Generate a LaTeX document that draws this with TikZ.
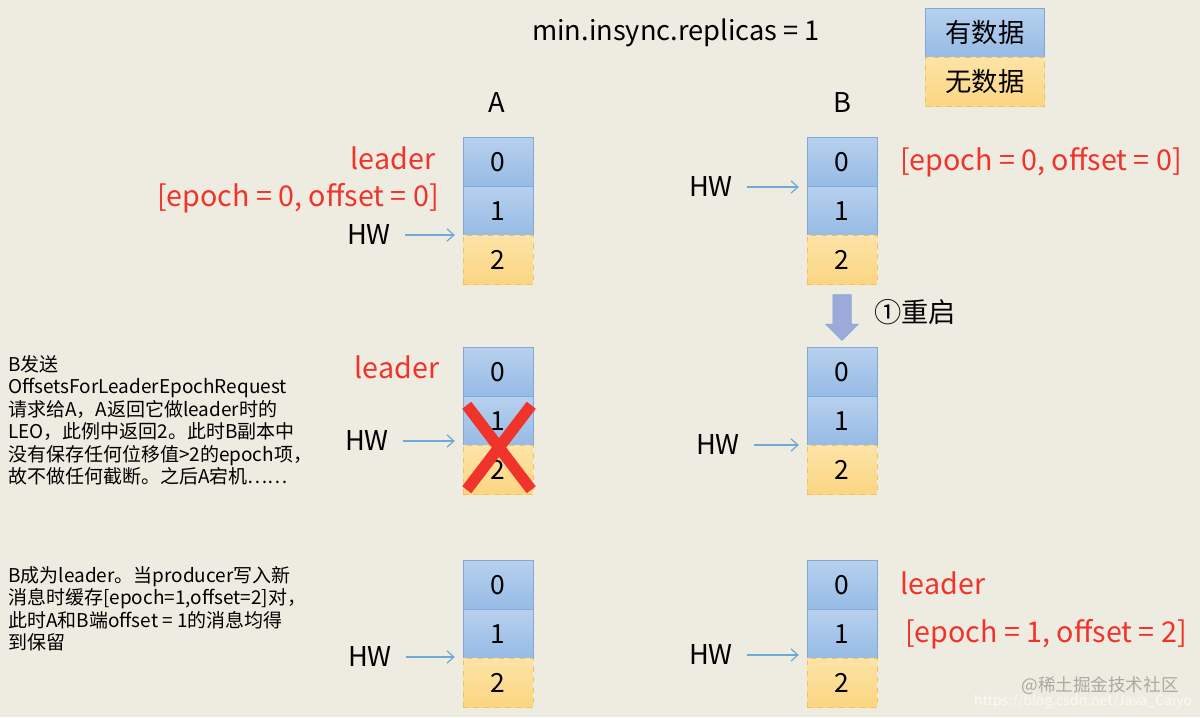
\documentclass[tikz,border=0pt]{standalone}
\usepackage{fontspec}
\setmainfont{Noto Sans CJK SC}
\usetikzlibrary{shapes.arrows,arrows.meta}
\definecolor{bg}{HTML}{EEEBE0}
\definecolor{hastop}{HTML}{B7D0EE}
\definecolor{hasbot}{HTML}{96BBE5}
\definecolor{hasline}{HTML}{7FAAD8}
\definecolor{notop}{HTML}{FDE3A6}
\definecolor{nobot}{HTML}{FBD682}
\definecolor{noline}{HTML}{F0C25A}
\definecolor{lred}{HTML}{F0342C}
\definecolor{arrblue}{HTML}{6FA9D8}
\begin{document}
\begin{tikzpicture}[x=0.2mm, y=-0.2mm,
    every node/.style={font=\fontsize{15.5}{17}\selectfont, inner sep=1mm},
    has/.style={draw=hasline, top color=hastop, bottom color=hasbot, minimum width=39.7pt, minimum height=27.8pt, inner sep=0pt, font=\fontsize{15}{17}\selectfont},
    no/.style={draw=noline, dashed, top color=notop, bottom color=nobot, minimum width=39.7pt, minimum height=27.8pt, inner sep=0pt, font=\fontsize{15}{17}\selectfont},
    redlabel/.style={text=lred, font=\fontsize{16.3}{18}\selectfont},
    note/.style={anchor=north west, align=left, font=\fontsize{10.8}{12.8}\selectfont, inner sep=0pt},
    hwline/.style={-{Straight Barb[length=4pt,width=7pt]}, draw=arrblue, line width=0.7pt, shorten <=5pt, shorten >=4.5pt}]
  \fill[bg] (0,0) rectangle (1200,717);
  \useasboundingbox (0,0) rectangle (1200,717);

  \node (title) at (676,33) {min.insync.replicas = 1};
  \node[has, minimum width=68pt] (key1) at (985,33) {有数据};
  \node[no, minimum width=68pt] (key2) at (985,82) {无数据};
  \node (A) at (497,103) {A};
  \node (B) at (842,103) {B};

  % the six logs
  \foreach \c/\x in {a/498,b/842}
    \foreach \r/\y in {1/162,2/372,3/585} {
      \node[has] (\c\r0) at (\x,\y) {0};
      \node[has] (\c\r1) at (\x,\y+49) {1};
      \node[no] (\c\r2) at (\x,\y+98) {2};
    }

  \node[redlabel] (lead1) at (393,158) {leader};
  \node[redlabel] (ep1) at (298,198) {[epoch = 0, offset = 0]};
  \node (hwa1) at (369,235) {HW};
  \node (hwb1) at (711,187) {HW};
  \node[redlabel] (ep2) at (1041,162) {[epoch = 0, offset = 0]};

  \node[single arrow, draw=hasline, fill=hasbot!85!violet!90, shape border rotate=270,
        minimum height=26pt, inner sep=5pt, single arrow head extend=4pt] (restart) at (842,313) {};
  \node (restartlabel) at (915,312) {①重启};

  \node[note] (note1) at (8,355) {B发送\\OffsetsForLeaderEpochRequest\\请求给A，A返回它做leader时的\\LEO，此例中返回2。此时B副本中\\没有保存任何位移值>2的epoch项，\\故不做任何截断。之后A宕机……};
  \node[redlabel] (lead2) at (397,367) {leader};
  \node (hwa2) at (367,441) {HW};
  \node (hwb2) at (718,445) {HW};

  \node[note] (note2) at (8,566) {B成为leader。当producer写入新\\消息时缓存[epoch=1,offset=2]对，\\此时A和B端offset = 1的消息均得\\到保留};
  \node (hwa3) at (370,657) {HW};
  \node (hwb3) at (711,655) {HW};
  \node[redlabel] (lead3) at (943,583) {leader};
  \node[redlabel] (ep3) at (1046,634) {[epoch = 1, offset = 2]};

  \node[text=black!28!bg, font=\fontsize{10}{12}\selectfont] (mark) at (1100,686) {@稀土掘金技术社区};
  \node[text=white!70!bg, font=\fontsize{8}{10}\selectfont] (url) at (1083,702) {https://blog.csdn.net/Java\_Caiyo};

  \foreach \h/\n in {hwa1/a11,hwb1/b10,hwa2/a21,hwb2/b21,hwa3/a31,hwb3/b31}
    \draw[hwline] (\h.east) -- (\h.east -| \n.west);

  \draw[lred, line width=6.5pt] ([shift={(4,9)}]a21.north west) -- ([shift={(-2,-5)}]a22.south east);
  \draw[lred, line width=6.5pt] ([shift={(-2,9)}]a21.north east) -- ([shift={(4,-5)}]a22.south west);
\end{tikzpicture}
\end{document}
